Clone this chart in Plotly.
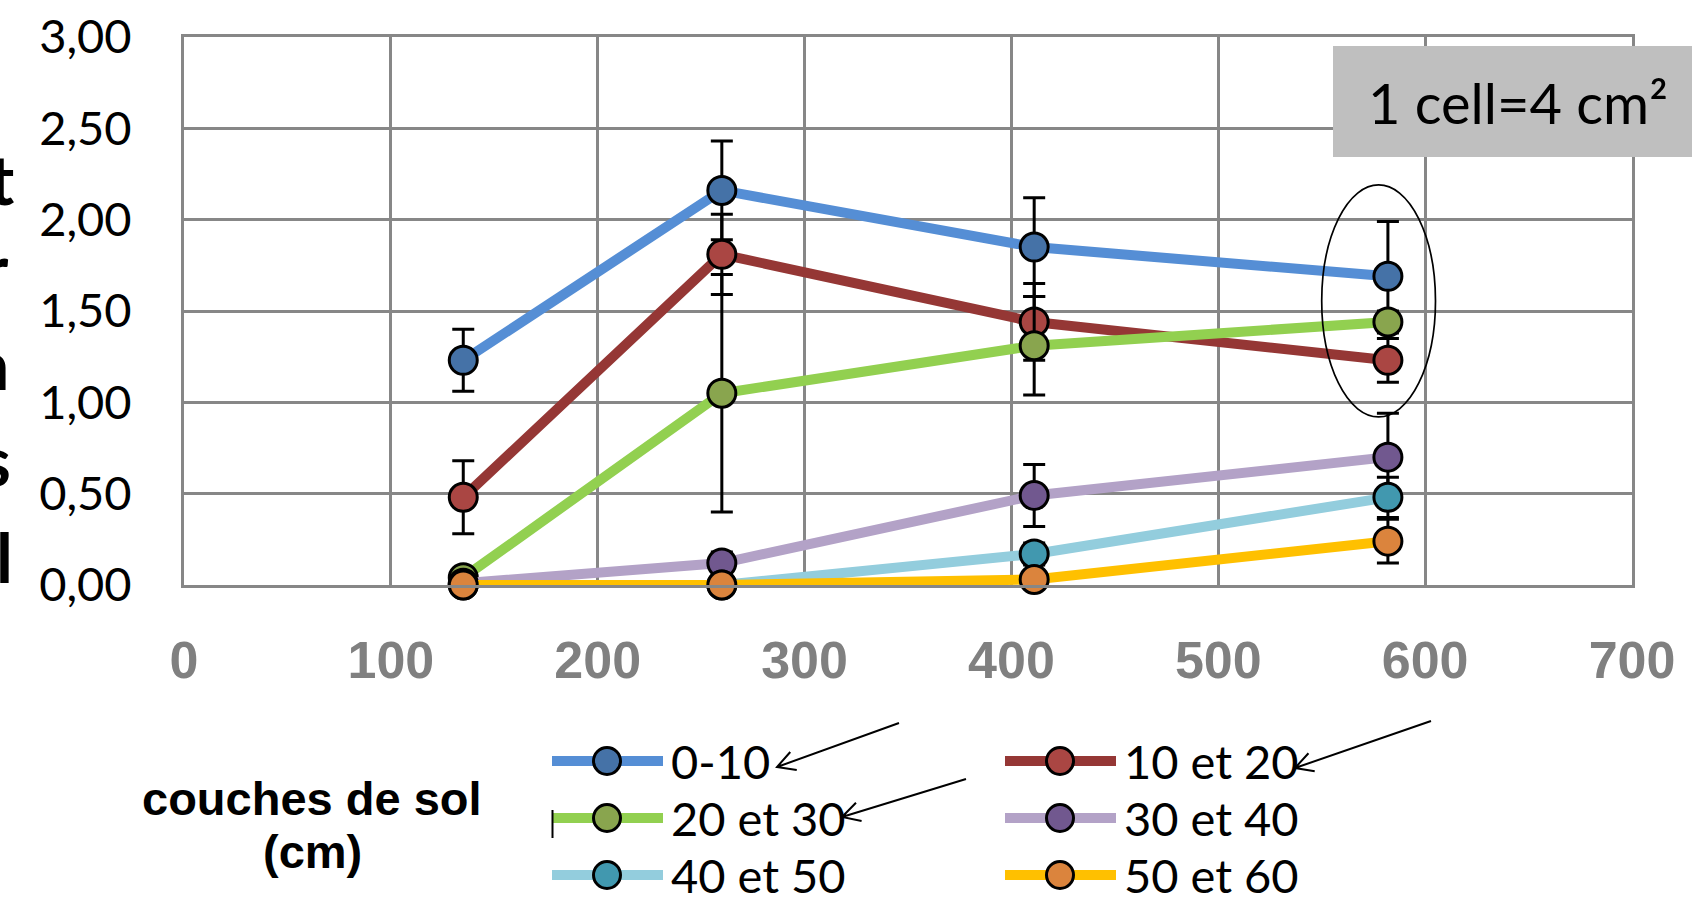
import math
import plotly.graph_objects as go

# ---------------- data ----------------
x_vals = [135, 260, 411, 582]
series_names = ["0-10", "10 et 20", "20 et 30", "30 et 40", "40 et 50", "50 et 60"]

y_0_10 = [1.23, 2.16, 1.85, 1.69]
y_10_20 = [0.48, 1.81, 1.44, 1.23]
y_20_30 = [0.04, 1.05, 1.31, 1.44]
y_30_40 = [0.01, 0.12, 0.49, 0.70]
y_40_50 = [0.00, 0.00, 0.17, 0.48]
y_50_60 = [0.00, 0.00, 0.03, 0.24]

e_0_10 = [0.17, 0.27, 0.27, 0.30]
e_10_20 = [0.20, 0.22, 0.21, 0.12]
e_20_30 = [0.00, 0.65, 0.27, 0.06]
e_30_40 = [0.00, 0.06, 0.17, 0.24]
e_40_50 = [0.00, 0.00, 0.06, 0.11]
e_50_60 = [0.00, 0.00, 0.00, 0.12]

x_ticks = [0, 100, 200, 300, 400, 500, 600, 700]
y_ticks = [0, 0.5, 1.0, 1.5, 2.0, 2.5, 3.0]

line_colors = ["#558ED5", "#953735", "#92D050", "#B3A2C7", "#93CDDD", "#FFC000"]
marker_colors = ["#4572A7", "#AA4643", "#89A54E", "#71588F", "#4198AF", "#DB843D"]

x_title = ["couches de sol", "(cm)"]
box_text = "1 cell=4 cm²"
clipped_letters = ["t", "r", "n", "s", "l"]

# ---------------- layout geometry ----------------
W, H = 1692, 897
ML, MR, MT, MB = 184, 60, 37, 312
PW = W - ML - MR
PH = H - MT - MB
BOTTOM = H - MB


def px(x):
    return (x - ML) / PW


def py(y):
    return (BOTTOM - y) / PH


GRID = "#878787"
ys = [y_0_10, y_10_20, y_20_30, y_30_40, y_40_50, y_50_60]
es = [e_0_10, e_10_20, e_20_30, e_30_40, e_40_50, e_50_60]

fig = go.Figure()
for name, yv, ev, lc, mc in zip(series_names, ys, es, line_colors, marker_colors):
    fig.add_trace(go.Scatter(
        x=x_vals, y=yv, name=name, mode="lines+markers",
        line=dict(color=lc, width=10),
        marker=dict(size=28, color=mc, line=dict(color="black", width=3)),
        error_y=dict(type="data", array=ev, visible=True, color="black",
                     thickness=3, width=11),
        cliponaxis=False, showlegend=False,
    ))

shapes = []
annotations = []

# ellipse around last group of points
shapes.append(dict(type="circle", xref="x", yref="y", x0=550, x1=605, y0=0.92, y1=2.19,
                   line=dict(color="black", width=1.7), layer="above"))

# gray label box
shapes.append(dict(type="rect", xref="paper", yref="paper",
                   x0=px(1333), x1=px(1710), y0=py(157), y1=py(46),
                   fillcolor="#BFBFBF", line=dict(width=0), layer="above"))
annotations.append(dict(text=box_text, xref="paper", yref="paper", x=px(1518), y=py(102),
                        xanchor="center", yanchor="middle", showarrow=False,
                        font=dict(family="Lato", size=56, color="black")))

# manual legend (2 columns x 3 rows)
leg_cols = [552, 1005]
leg_rows = [761, 818, 875]
for i, (name, lc, mc) in enumerate(zip(series_names, line_colors, marker_colors)):
    cx = leg_cols[i % 2]
    cy = leg_rows[i // 2]
    shapes.append(dict(type="line", xref="paper", yref="paper",
                       x0=px(cx), x1=px(cx + 111), y0=py(cy), y1=py(cy),
                       line=dict(color=lc, width=10)))
    shapes.append(dict(type="circle", xref="paper", yref="paper",
                       x0=px(cx + 55 - 13.5), x1=px(cx + 55 + 13.5),
                       y0=py(cy + 13.5), y1=py(cy - 13.5),
                       fillcolor=mc, line=dict(color="black", width=3)))
    annotations.append(dict(text=name, xref="paper", yref="paper", x=px(cx + 117), y=py(cy),
                            xanchor="left", yanchor="middle", showarrow=False,
                            font=dict(family="Lato", size=47, color="black")))

# small stray mark near legend
shapes.append(dict(type="line", xref="paper", yref="paper", x0=px(552.5), x1=px(552.5),
                   y0=py(810), y1=py(838), line=dict(color="black", width=2)))

# arrows pointing to legend entries
arrows = [((899, 723), (777, 767)), ((1431, 721), (1295, 768)), ((966, 779), (842, 817))]
for (tx, ty), (hx, hy) in arrows:
    ang = math.atan2(ty - hy, tx - hx)
    L = 20
    a1 = (hx + L * math.cos(ang + 0.5), hy + L * math.sin(ang + 0.5))
    a2 = (hx + L * math.cos(ang - 0.5), hy + L * math.sin(ang - 0.5))
    path = (f"M {px(tx)},{py(ty)} L {px(hx)},{py(hy)} "
            f"M {px(a1[0])},{py(a1[1])} L {px(hx)},{py(hy)} L {px(a2[0])},{py(a2[1])}")
    shapes.append(dict(type="path", xref="paper", yref="paper", path=path,
                       line=dict(color="black", width=2)))

# x title (two lines)
annotations.append(dict(text=x_title[0], xref="paper", yref="paper", x=px(312), y=py(798),
                        xanchor="center", yanchor="middle", showarrow=False,
                        font=dict(family="Liberation Sans", size=47, color="black", weight="bold")))
annotations.append(dict(text=x_title[1], xref="paper", yref="paper", x=px(312), y=py(852),
                        xanchor="center", yanchor="middle", showarrow=False,
                        font=dict(family="Liberation Sans", size=47, color="black", weight="bold")))

# clipped letters of the (cut-off) vertical title at left edge
letter_right = [12, 7, 7, 9, 11]
letter_base = [202, 291, 387, 483, 580]
for ch, rx, by in zip(clipped_letters, letter_right, letter_base):
    annotations.append(dict(text=ch, xref="paper", yref="paper", x=px(rx + 4), y=py(by - 24),
                            xanchor="right", yanchor="middle", showarrow=False,
                            font=dict(family="Lato", size=68, color="black", weight="bold")))

fig.update_layout(
    width=W, height=H,
    margin=dict(l=ML, r=MR, t=MT, b=MB, pad=0, autoexpand=False),
    paper_bgcolor="white", plot_bgcolor="white",
    separators=", ",
    shapes=shapes, annotations=annotations,
    showlegend=False,
    xaxis=dict(range=[0, 700], tickvals=x_ticks, showgrid=True, gridcolor=GRID, gridwidth=3,
               zeroline=False, showline=True, linecolor=GRID, linewidth=3, mirror=True,
               ticks="", ticklabelstandoff=28, automargin=False,
               tickfont=dict(family="Liberation Sans", size=52, color="#808080", weight="bold")),
    yaxis=dict(range=[0, 3], tickvals=y_ticks, tickformat=".2f", showgrid=True, gridcolor=GRID,
               gridwidth=3, zeroline=False, showline=True, linecolor=GRID, linewidth=3, mirror=True,
               ticks="", ticklabelstandoff=40, automargin=False,
               tickfont=dict(family="Lato", size=47, color="black")),
)

fig.write_html("out.html", config={"displayModeBar": False},
               post_script="document.body.style.margin='0';document.body.style.overflow='hidden';")
